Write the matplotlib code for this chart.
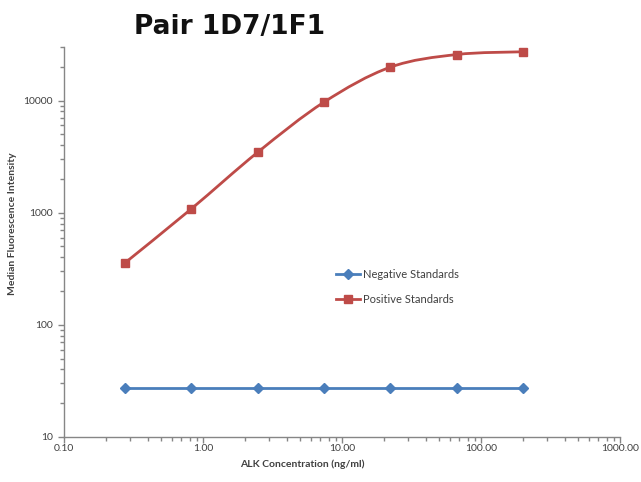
import matplotlib
import numpy as np

matplotlib.use("Agg")
import matplotlib.pyplot as plt
from matplotlib.path import Path
from matplotlib.patches import PathPatch
from matplotlib.ticker import FixedLocator, LogLocator, NullFormatter

# values
concentration = [0.274, 0.823, 2.47, 7.41, 22.2, 66.7, 200.0]
negative_mfi = [27.4, 27.4, 27.4, 27.4, 27.4, 27.4, 27.4]
positive_mfi = [356, 1080, 3450, 9660, 19800, 25700, 27200]
x_ticks = [0.1, 1, 10, 100, 1000]
x_tick_labels = ["0.10", "1.00", "10.00", "100.00", "1000.00"]
y_ticks = [10, 100, 1000, 10000]
y_tick_labels = ["10", "100", "1000", "10000"]

BLUE = "#4a7ebb"
RED = "#be4b48"
AXIS_GRAY = "#868686"
TEXT = "#404040"

plt.rcParams["font.family"] = ["Lato", "DejaVu Sans"]


def smooth_path(xs, ys):
    # Excel-style smoothed line: Catmull-Rom bezier built in log space
    lx = np.log10(xs)
    ly = np.log10(ys)
    n = len(lx)
    verts = [(lx[0], ly[0])]
    codes = [Path.MOVETO]
    for i in range(n - 1):
        p0 = (lx[max(i - 1, 0)], ly[max(i - 1, 0)])
        p1 = (lx[i], ly[i])
        p2 = (lx[i + 1], ly[i + 1])
        p3 = (lx[min(i + 2, n - 1)], ly[min(i + 2, n - 1)])
        c1 = (p1[0] + (p2[0] - p0[0]) / 6, p1[1] + (p2[1] - p0[1]) / 6)
        c2 = (p2[0] - (p3[0] - p1[0]) / 6, p2[1] - (p3[1] - p1[1]) / 6)
        verts += [c1, c2, p2]
        codes += [Path.CURVE4] * 3
    verts = [(10 ** vx, 10 ** vy) for vx, vy in verts]
    return Path(verts, codes)


fig = plt.figure(figsize=(6.41, 4.82), dpi=100)
ax = fig.add_axes([64 / 641, 1 - 437 / 482, 556 / 641, 390 / 482])
ax.set_xscale("log")
ax.set_yscale("log")
ax.set_xlim(0.1, 1000)
ax.set_ylim(10, 30000)

ax.add_patch(PathPatch(smooth_path(concentration, positive_mfi), fill=False,
                       edgecolor=RED, lw=2, zorder=2))
ax.plot(concentration, negative_mfi, color=BLUE, lw=2, marker="D", ms=5,
        mfc=BLUE, mec=BLUE, label="Negative Standards", zorder=3)
ax.plot(concentration, positive_mfi, color=RED, lw=0, marker="s", ms=5.6,
        mfc=RED, mec=RED, zorder=3)
ax.plot([], [], color=RED, lw=2, marker="s", ms=5.6, label="Positive Standards")

for side in ("top", "right"):
    ax.spines[side].set_visible(False)
for side in ("left", "bottom"):
    ax.spines[side].set_color(AXIS_GRAY)
    ax.spines[side].set_linewidth(1)

ax.xaxis.set_major_locator(FixedLocator(x_ticks))
ax.set_xticklabels(x_tick_labels)
ax.yaxis.set_major_locator(FixedLocator(y_ticks))
ax.set_yticklabels(y_tick_labels)
ax.xaxis.set_minor_locator(LogLocator(base=10, subs=np.arange(2, 10)))
ax.yaxis.set_minor_locator(LogLocator(base=10, subs=np.arange(2, 10)))
ax.xaxis.set_minor_formatter(NullFormatter())
ax.yaxis.set_minor_formatter(NullFormatter())
ax.tick_params(which="both", direction="out", color=AXIS_GRAY, width=1,
               labelsize=7.5, labelcolor=TEXT)
ax.tick_params(which="major", length=4)
ax.tick_params(which="minor", length=3)
ax.tick_params(axis="x", pad=1)
ax.tick_params(axis="y", pad=4)

fig.text(230 / 641, 1 - 34 / 482, "Pair 1D7/1F1", fontsize=19, fontweight="bold",
         family="DejaVu Sans", ha="center", va="baseline", color="#111111")
fig.text(302 / 641, 1 - 464 / 482, "ALK Concentration (ng/ml)", fontsize=7.5,
         fontweight="bold", ha="center", va="center", color=TEXT)
fig.text(13 / 641, 1 - 224 / 482, "Median Fluorescence Intensity", fontsize=7.5,
         fontweight="bold", ha="center", va="center", rotation=90, color=TEXT)

ax.legend(loc="upper left", bbox_to_anchor=(326 / 641, 1 - 259 / 482),
          bbox_transform=fig.transFigure, frameon=False, fontsize=8,
          handlelength=2.2, handletextpad=0.2, labelspacing=1.25,
          labelcolor=TEXT)

fig.savefig("out.png", dpi=100, facecolor="white")
